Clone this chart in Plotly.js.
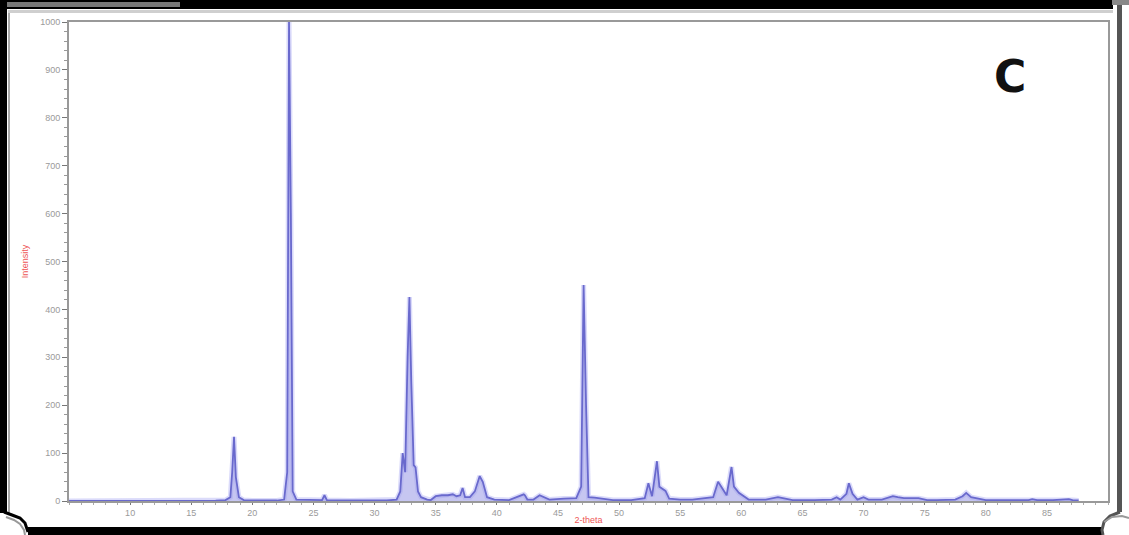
<!DOCTYPE html>
<html>
<head>
<meta charset="utf-8">
<script src="https://cdn.plot.ly/plotly-3.0.1.min.js"></script>
<style>
html,body{margin:0;padding:0;background:#fff;}
#chart{width:1129px;height:535px;}
</style>
</head>
<body>
<div id="chart"></div>
<script>
// 2-theta positions (degrees) and intensities
const twoTheta = [5,10,15,17,17.8,18.2,18.35,18.5,18.65,18.9,
  19.3,20,22,22.6,22.85,23.0,23.15,23.3,23.6,24.5,
  25.7,25.9,26.1,28,31,31.8,32.1,32.3,32.5,32.7,
  32.85,33.0,33.2,33.35,33.55,33.8,34.3,34.6,35.0,35.5,
  36.0,36.4,36.7,37.0,37.2,37.4,37.8,38.2,38.6,38.85,
  39.2,39.8,41,42.2,42.3,42.5,43,43.5,43.9,44.3,
  45.5,46.5,46.9,47.1,47.3,47.5,48,48.7,49.5,51,
  52.1,52.4,52.7,53.1,53.3,53.8,54.1,55,56,57.7,
  58.1,58.4,58.8,59.2,59.4,59.8,60.2,60.6,62,63.0,
  63.4,64.2,66,67.4,67.8,68.1,68.6,68.8,69.1,69.5,
  70.0,70.4,71.5,72.4,72.8,73.3,74.5,75.2,76,77.5,
  78.1,78.4,78.8,79.4,80,81.5,83.5,83.8,84.2,85.5,
  86.8,87.1,87.6];
const intensity = [0,0,0,0.5,2,8,60,134,50,8,
  2,1,1,3,60,1000,600,20,3,2,
  2,12,2,1,1,3,20,100,60,300,
  426,250,75,70,20,8,3,2,10,12,
  12,14,10,12,27,8,8,20,52,40,
  8,3,2,14,12,3,3,12,8,3,
  5,6,30,451,200,8,7,5,2,2,
  6,37,10,83,30,21,5,3,3,8,
  40,28,12,71,30,17,10,3,3,8,
  6,2,2,3,8,3,15,37,15,3,
  8,3,3,10,8,6,6,2,2,3,
  10,17,8,5,2,2,2,4,2,2,
  4,2,1];
const xTicks = [10,15,20,25,30,35,40,45,50,55,60,65,70,75,80,85];
const yTicks = [0,100,200,300,400,500,600,700,800,900,1000];

// pixel -> paper helpers for the page decorations
const L=69, T=22, W=1039, H=479;
const px = p => (p - L) / W;
const py = q => (T + H - q) / H;
function rect(x0,y0,x1,y1,color){
  return {type:'rect',xref:'paper',yref:'paper',x0:px(x0),x1:px(x1),y0:py(y1),y1:py(y0),
          fillcolor:color,line:{width:0},layer:'above'};
}
function path(pts,color,w){
  let d = 'M' + pts.map(p=>px(p[0]).toFixed(5)+','+py(p[1]).toFixed(5)).join(' L');
  return {type:'path',xref:'paper',yref:'paper',path:d,line:{color:color,width:w},layer:'above'};
}

const halo = {
  x: twoTheta, y: intensity, type:'scatter', mode:'lines',
  line:{color:'rgba(200,200,248,0.65)', width:5}, hoverinfo:'skip'
};
const trace = {
  x: twoTheta, y: intensity, type:'scatter', mode:'lines',
  fill:'tozeroy', fillcolor:'rgba(160,160,232,0.6)',
  line:{color:'rgb(105,105,205)', width:1.8}, hoverinfo:'x+y'
};

const layout = {
  width:1129, height:535,
  margin:{l:L, r:1129-L-W, t:T, b:535-T-H},
  paper_bgcolor:'#fff', plot_bgcolor:'#fff',
  showlegend:false,
  font:{family:'Liberation Sans, Arial, sans-serif'},
  xaxis:{
    range:[5,90], tickvals:xTicks, ticktext:xTicks.map(String),
    ticks:'outside', ticklen:2, tickcolor:'#777', tickwidth:1,
    minor:{dtick:1, ticks:'outside', ticklen:2, tickcolor:'#aaa'},
    showgrid:false, zeroline:false,
    showline:true, linecolor:'#999', linewidth:2, mirror:true,
    tickfont:{size:9, color:'#9a9a9a'},
    title:{text:'2-theta', font:{size:9, color:'#ee5555'}, standoff:0}
  },
  yaxis:{
    range:[0,1000], tickvals:yTicks, ticktext:yTicks.map(String),
    ticks:'outside', ticklen:5, tickcolor:'#777', tickwidth:1,
    minor:{dtick:20, ticks:'outside', ticklen:3, tickcolor:'#999'},
    showgrid:false, zeroline:false,
    showline:true, linecolor:'#999', linewidth:2, mirror:true,
    tickfont:{size:9, color:'#9a9a9a'},
    title:{text:'Intensity', font:{size:9, color:'#ee5555'}, standoff:10}
  },
  annotations:[
    {text:'<b>C</b>', xref:'paper', yref:'paper', x:px(1010), y:py(76),
     xanchor:'center', yanchor:'middle',
     showarrow:false, font:{family:'DejaVu Sans, sans-serif', size:44, color:'#111'}}
  ],
  shapes:[
    rect(0,0,1113,9,'#000'),
    rect(6,2,180,7,'rgba(150,150,150,0.8)'),
    rect(8,10,1113,13,'#cfcfcf'),
    rect(0,0,7,513,'#000'),
    rect(8,13,10,513,'#aaa'),
    rect(28,527,1103,535,'#000'),
    rect(1117,0,1122,512,'#555'),
    rect(1112,0,1129,5,'#888'),
    path([[4,512],[12,515],[20,518],[25,523],[28,532]],'#000',3),
    path([[6,517],[14,520],[20,524],[24,530],[25,535]],'#999',2),
    path([[1120,512],[1110,516],[1104,522],[1102,530],[1103,535]],'#555',3),
    path([[1104,522],[1112,517],[1122,516],[1129,518]],'#999',2)
  ]
};

Plotly.newPlot('chart',[halo,trace],layout,{displayModeBar:false,staticPlot:true});
</script>
</body>
</html>
